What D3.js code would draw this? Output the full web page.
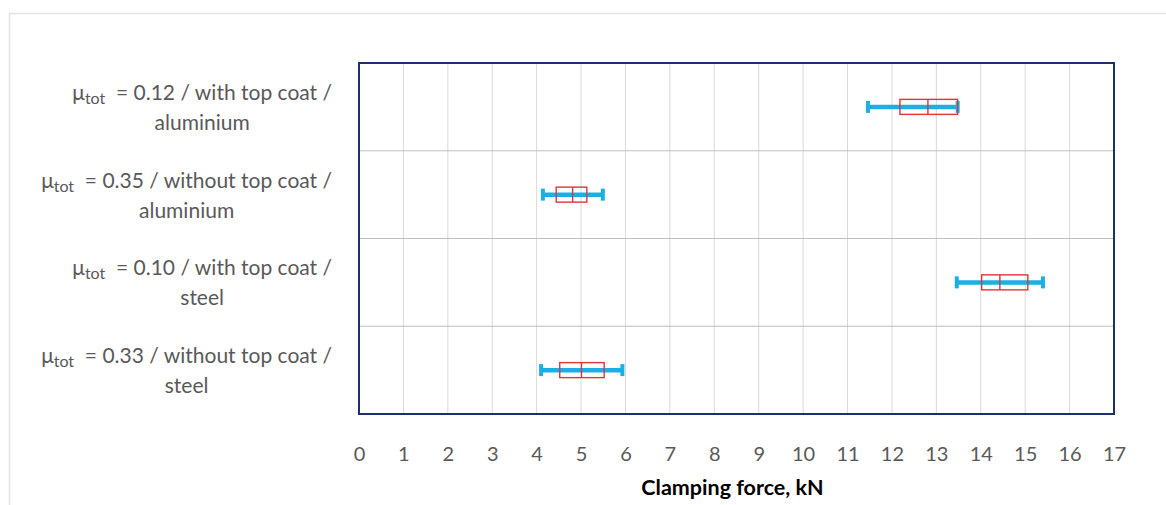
<!DOCTYPE html>
<html><head><meta charset="utf-8">
<script src="https://cdn.jsdelivr.net/npm/d3@7"></script>
<style>html,body{margin:0;padding:0;background:#fff;}svg{display:block;}</style>
</head><body>
<svg id="c" width="1166" height="505"></svg>
<script>
// Data
const line1Rest = ["= 0.12 / with top coat /", "= 0.35 / without top coat /", "= 0.10 / with top coat /", "= 0.33 / without top coat /"];
const line2 = ["aluminium", "aluminium", "steel", "steel"];
const categories = ["Al 0.12 coat", "Al 0.35 no coat", "Steel 0.10 coat", "Steel 0.33 no coat"];
const whiskerMin = [11.46, 4.14, 13.46, 4.10];
const q1 = [12.18, 4.44, 14.02, 4.52];
const median = [12.81, 4.81, 14.43, 5.01];
const q3 = [13.48, 5.13, 15.06, 5.52];
const whiskerMax = [13.48, 5.49, 15.40, 5.93];
const xTicks = d3.range(0, 18);
const xTitle = "Clamping force, kN";

const svg = d3.select("#c");
const L = 359, R = 1114, T = 63, B = 414;
const font = "Lato, 'Open Sans', sans-serif";

// outer frame
svg.append("rect").attr("x", 9.5).attr("y", 13.5).attr("width", 1170).attr("height", 510)
  .attr("fill", "none").attr("stroke", "#e3e3e3").attr("stroke-width", 1.5);

const x = d3.scaleLinear().domain([0, 17]).range([L, R]);
const y = d3.scaleBand().domain(categories).range([T, B]).padding(0);

// vertical gridlines
svg.append("g").selectAll("line").data(xTicks.slice(1, -1)).join("line")
  .attr("x1", d => x(d)).attr("x2", d => x(d)).attr("y1", T).attr("y2", B)
  .attr("stroke", "#d9d9d9").attr("stroke-width", 1);
// horizontal band separators
svg.append("g").selectAll("line").data(categories.slice(1)).join("line")
  .attr("x1", L).attr("x2", R).attr("y1", d => y(d)).attr("y2", d => y(d))
  .attr("stroke", "#bfbfbf").attr("stroke-width", 1);

// tick labels via axis
const ax = svg.append("g").attr("transform", `translate(0,${B})`)
  .call(d3.axisBottom(x).tickValues(xTicks).tickSize(0).tickPadding(33).tickFormat(d3.format("d")));
ax.select(".domain").remove();
ax.selectAll("text").attr("font-family", font).attr("font-size", 20).attr("fill", "#595959");

svg.append("text").attr("x", (L + R) / 2 - 4).attr("y", 495).attr("text-anchor", "middle")
  .attr("font-family", font).attr("font-weight", "bold").attr("font-size", 21.5).attr("fill", "#000")
  .text(xTitle);

// boxes
const g = svg.append("g");
const bh = 15, capH = 12;
categories.forEach((c, i) => {
  const cy = y(c) + y.bandwidth() / 2;
  g.append("line").attr("x1", x(whiskerMin[i])).attr("x2", x(whiskerMax[i])).attr("y1", cy).attr("y2", cy)
    .attr("stroke", "#1eaee6").attr("stroke-width", 4.5);
  [whiskerMin[i], whiskerMax[i]].forEach(v => {
    g.append("line").attr("x1", x(v)).attr("x2", x(v)).attr("y1", cy - capH / 2).attr("y2", cy + capH / 2)
      .attr("stroke", "#1eaee6").attr("stroke-width", 4);
  });
  g.append("rect").attr("x", x(q1[i])).attr("y", cy - bh / 2).attr("width", x(q3[i]) - x(q1[i])).attr("height", bh)
    .attr("fill", "none").attr("stroke", "#e0353a").attr("stroke-width", 1.4);
  g.append("line").attr("x1", x(median[i])).attr("x2", x(median[i])).attr("y1", cy - bh / 2).attr("y2", cy + bh / 2)
    .attr("stroke", "#e0353a").attr("stroke-width", 1.4);
});

// plot frame
svg.append("rect").attr("x", L).attr("y", T).attr("width", R - L).attr("height", B - T)
  .attr("fill", "none").attr("stroke", "#1f2f6b").attr("stroke-width", 2);

// category labels
const rightEdge = 332;
categories.forEach((c, i) => {
  const cy = y(c) + y.bandwidth() / 2;
  const lg = svg.append("g");
  const t1 = lg.append("text").attr("y", cy - 7).attr("font-family", font).attr("font-size", 21).attr("fill", "#595959");
  t1.append("tspan").text("μ");
  t1.append("tspan").attr("dy", 4).attr("font-size", 16).text("tot");
  t1.append("tspan").attr("dy", -4).text("\u00a0 " + line1Rest[i]);
  const t2 = lg.append("text").attr("y", cy + 23).attr("font-family", font).attr("font-size", 21).attr("fill", "#595959")
    .text(line2[i]);
  const w1 = t1.node().getComputedTextLength();
  const w2 = t2.node().getComputedTextLength();
  const cx = rightEdge - Math.max(w1, w2) / 2;
  t1.attr("x", cx - w1 / 2);
  t2.attr("x", cx).attr("text-anchor", "middle");
});
</script>
</body></html>
